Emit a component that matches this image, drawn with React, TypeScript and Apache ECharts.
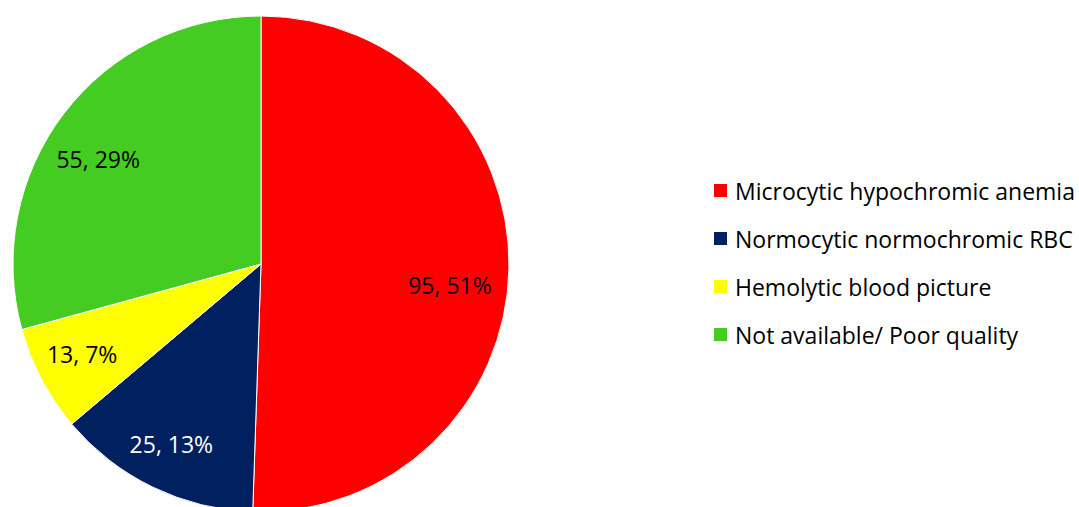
import React, { useEffect, useRef } from "react";
import * as echarts from "echarts";

const categories = [
  "Microcytic hypochromic anemia",
  "Normocytic normochromic RBC",
  "Hemolytic blood picture",
  "Not available/ Poor quality",
];
const values = [95, 25, 13, 55];
const colors = ["#FF0000", "#002060", "#FFFF00", "#44CC22"];
const labelColors = ["#000000", "#FFFFFF", "#000000", "#000000"];

export default function App() {
  const ref = useRef<HTMLDivElement>(null);
  useEffect(() => {
    document.body.style.margin = "0";
    const chart = echarts.init(ref.current!, null, { renderer: "svg" });
    const total = values.reduce((a, b) => a + b, 0);
    const font = "'Open Sans', Calibri, sans-serif";
    // Excel "best fit" nudges for the labels
    const nudges: number[][] = [[-12, 18], [-2, -1], [-1, -4], [-3, 17]];
    chart.setOption({
      animation: false,
      backgroundColor: "#ffffff",
      legend: {
        orient: "vertical",
        left: 707,
        top: 174,
        itemWidth: 15,
        itemHeight: 15,
        itemGap: 25,
        icon: "rect",
        data: categories,
        textStyle: { fontFamily: font, fontSize: 23, color: "#000", padding: [0, 0, 0, 2] },
      },
      series: [
        {
          type: "pie",
          center: [261, 264],
          radius: [0, 248],
          startAngle: 90,
          clockwise: true,
          label: { show: false },
          labelLine: { show: false },
          silent: true,
          data: categories.map((c, i) => ({
            name: c,
            value: values[i],
            itemStyle: { color: colors[i], borderColor: "#ffffff", borderWidth: 1 },
          })),
        },
        {
          type: "pie",
          center: [261, 264],
          radius: [148, 248],
          startAngle: 90,
          clockwise: true,
          silent: true,
          labelLine: { show: false },
          data: categories.map((c, i) => ({
            name: c,
            value: values[i],
            itemStyle: { color: "rgba(0,0,0,0)" },
            label: {
              show: true,
              position: "inside",
              formatter: `${values[i]}, ${Math.round((values[i] / total) * 100)}%`,
              color: labelColors[i],
              fontFamily: font,
              fontSize: 23,
              offset: nudges[i],
            },
          })),
        },
      ],
    });
    return () => chart.dispose();
  }, []);
  return <div ref={ref} style={{ width: 1079, height: 507 }} />;
}
